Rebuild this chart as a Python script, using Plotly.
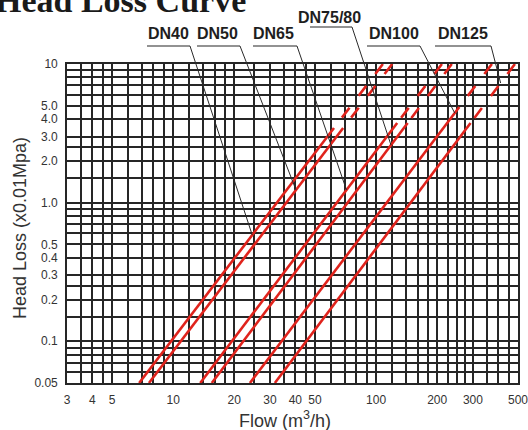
import math
import numpy as np
import plotly.graph_objects as go

# ---------------- data ----------------
sizes = ["DN40", "DN50", "DN65", "DN75/80", "DN100", "DN125"]
# each curve: start (bottom of chart), end of the solid (measured) part, end of dashed part
flow_start = [6.8, 7.6, 13.6, 15.5, 23.9, 31.7]          # m3/h
head_start = [0.05, 0.05, 0.05, 0.05, 0.05, 0.05]        # x0.01 MPa
flow_solid_end = [62.0, 68.8, 127.0, 143.0, 257.0, 292.0]
head_solid_end = [3.45, 3.45, 3.75, 3.75, 4.9, 3.75]
flow_top = [108.0, 120.0, 211.0, 236.0, 372.0, 483.0]
head_top = [10.0, 10.0, 10.0, 10.0, 10.0, 10.0]
# head value on each curve where the label's leader line points
leader_head = [0.584, 1.234, 1.234, 2.60, 4.43, 7.29]

x_tickvals = [3, 4, 5, 10, 20, 30, 40, 50, 100, 200, 300, 500]
x_ticktext = ["3", "4", "5", "10", "20", "30", "40", "50", "100", "200", "300", "500"]
x_minor = [3.5, 4.5, 6, 7, 8, 9, 12, 14, 16, 18, 25, 35, 45, 60, 70, 80, 90,
           120, 140, 160, 180, 225, 250, 275, 350, 400, 450]
y_tickvals = [0.05, 0.1, 0.2, 0.3, 0.4, 0.5, 1, 2, 3, 4, 5, 10]
y_ticktext = ["0.05", "0.1", "0.2", "0.3", "0.4", "0.5", "1.0", "2.0", "3.0", "4.0", "5.0", "10"]
y_minor = [0.06, 0.07, 0.08, 0.09, 0.15, 0.25, 0.6, 0.7, 0.8, 0.9, 1.5, 2.5, 6, 7, 8, 9]

# ---------------- layout geometry ----------------
W, H = 528, 430
ML, MR, MT, MB = 67, 10, 64, 47
PW, PH = W - ML - MR, H - MT - MB
EPS = 1e-4
X_RANGE = [math.log10(3) - EPS, math.log10(500) + EPS]
Y_RANGE = [math.log10(0.05) - EPS, 1.0 + EPS]

def px2paper_x(px):
    return (px - ML) / PW

def py2paper_y(py):
    return (H - MB - py) / PH

def data2paper(fx, hy):
    xp = (math.log10(fx) - X_RANGE[0]) / (X_RANGE[1] - X_RANGE[0])
    yp = (math.log10(hy) - Y_RANGE[0]) / (Y_RANGE[1] - Y_RANGE[0])
    return xp, yp

# label placement (pixel): center x, center y, underline x0, x1, underline y
label_pos = [
    (168, 34, 147, 190, 46),
    (217, 34, 197, 240, 46),
    (273, 34, 253, 297, 46),
    (329, 17, 310, 352, 27),
    (394, 34, 367, 420, 46),
    (463, 34, 435, 491, 46),
]

RED = "#e0231c"
GRID = "#262626"
TXT = "#333333"
SANS = "Liberation Sans, Arial, sans-serif"

fig = go.Figure()
for i, name in enumerate(sizes):
    fig.add_trace(go.Scatter(
        x=[flow_start[i], flow_solid_end[i]], y=[head_start[i], head_solid_end[i]],
        mode="lines", line=dict(color=RED, width=2.6), name=name, hoverinfo="name"))
    fig.add_trace(go.Scatter(
        x=[flow_top[i], flow_solid_end[i]], y=[head_top[i], head_solid_end[i]],
        mode="lines", line=dict(color=RED, width=2.6, dash="12.5px,15px"),
        name=name, hoverinfo="name"))

shapes = []
annotations = []
for i, name in enumerate(sizes):
    cx, cy, ux0, ux1, uy = label_pos[i]
    annotations.append(dict(
        text="<b>%s</b>" % name, x=px2paper_x(cx), y=py2paper_y(cy),
        xref="paper", yref="paper", showarrow=False, xanchor="center", yanchor="middle",
        font=dict(family=SANS, size=16, color="#1e1e1e")))
    shapes.append(dict(type="line", xref="paper", yref="paper",
                       x0=px2paper_x(ux0), x1=px2paper_x(ux1),
                       y0=py2paper_y(uy), y1=py2paper_y(uy),
                       line=dict(color="#6e6e6e", width=1.5)))
    # point on the curve (log-log interpolation along the curve's own points)
    lx = [math.log10(flow_start[i]), math.log10(flow_solid_end[i]), math.log10(flow_top[i])]
    ly = [math.log10(head_start[i]), math.log10(head_solid_end[i]), math.log10(head_top[i])]
    tf = 10 ** float(np.interp(math.log10(leader_head[i]), ly, lx))
    txp, typ = data2paper(tf, leader_head[i])
    shapes.append(dict(type="line", xref="paper", yref="paper",
                       x0=px2paper_x(ux1), y0=py2paper_y(uy), x1=txp, y1=typ,
                       line=dict(color="#2a2a2a", width=1)))

annotations.append(dict(
    text="<b>Head Loss Curve</b>", x=px2paper_x(-7), y=py2paper_y(1),
    xref="paper", yref="paper", showarrow=False, xanchor="left", yanchor="middle",
    font=dict(family="Liberation Serif, Times New Roman, serif", size=34, color="#1a1a1a")))
annotations.append(dict(
    text="Flow (m<sup>3</sup>/h)", x=px2paper_x(285), y=py2paper_y(419),
    xref="paper", yref="paper", showarrow=False, xanchor="center", yanchor="middle",
    font=dict(family=SANS, size=18, color=TXT)))
annotations.append(dict(
    text="Head Loss (x0.01Mpa)", x=px2paper_x(20), y=py2paper_y(228), textangle=-90,
    xref="paper", yref="paper", showarrow=False, xanchor="center", yanchor="middle",
    font=dict(family=SANS, size=18, color=TXT)))

axis_common = dict(
    showgrid=True, gridcolor=GRID, gridwidth=1.6,
    showline=True, linecolor=GRID, linewidth=1.6, mirror=True,
    ticks="", ticklabelstandoff=5, automargin=False, zeroline=False,
    tickfont=dict(family=SANS, size=12, color=TXT), fixedrange=True,
)

fig.update_layout(
    width=W, height=H,
    margin=dict(l=ML, r=MR, t=MT, b=MB, pad=0),
    paper_bgcolor="white", plot_bgcolor="white",
    showlegend=False,
    xaxis=dict(type="log", range=X_RANGE, tickmode="array",
               tickvals=x_tickvals, ticktext=x_ticktext, ticklabeloverflow="allow",
               minor=dict(tickmode="array", tickvals=x_minor, showgrid=True,
                          gridcolor=GRID, gridwidth=1.6, ticks=""),
               **axis_common),
    yaxis=dict(type="log", range=Y_RANGE, tickmode="array",
               tickvals=y_tickvals, ticktext=y_ticktext,
               minor=dict(tickmode="array", tickvals=y_minor, showgrid=True,
                          gridcolor=GRID, gridwidth=1.6, ticks=""),
               **axis_common),
    shapes=shapes, annotations=annotations,
)

fig.write_html(
    "out.html",
    config={"displayModeBar": False},
    post_script="document.body.style.margin='0';document.body.style.overflow='hidden';",
)
